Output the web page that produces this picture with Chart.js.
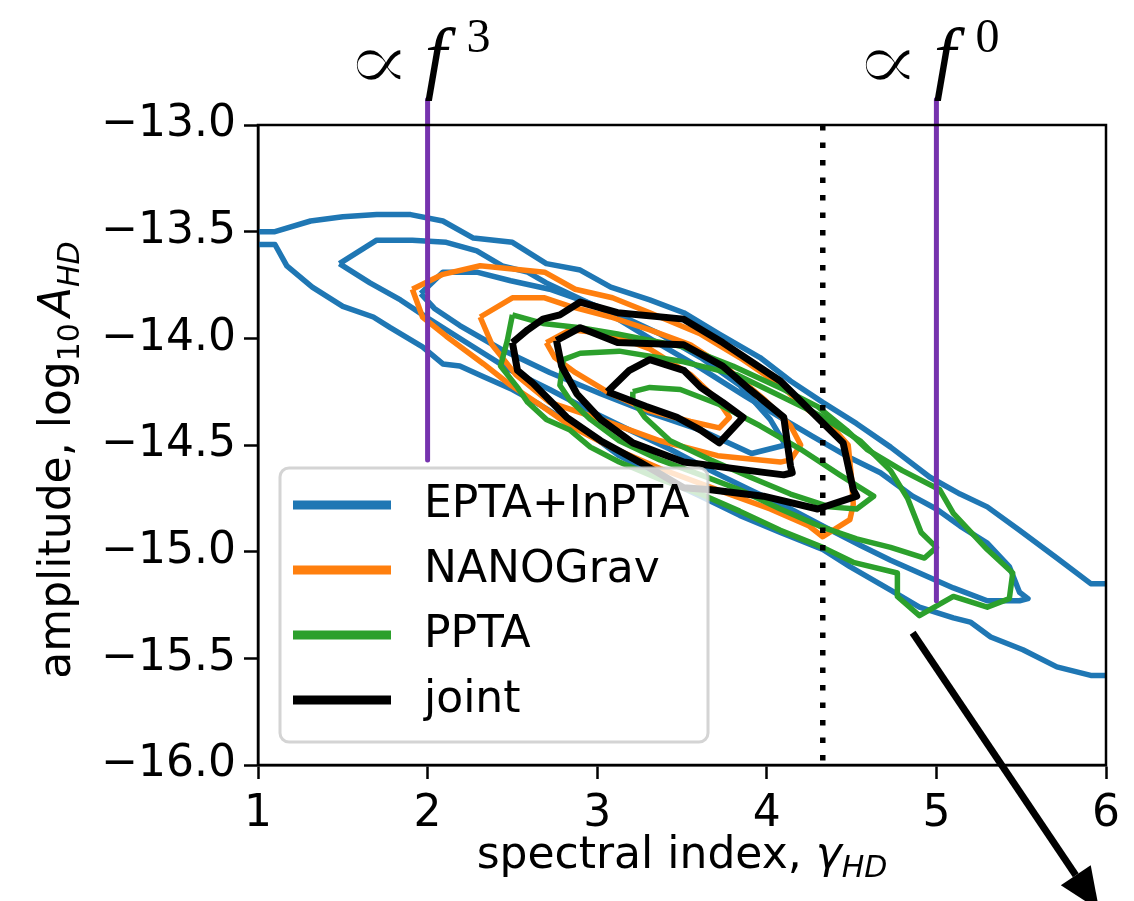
<!DOCTYPE html>
<html>
<head>
<meta charset="utf-8">
<script src="https://cdn.jsdelivr.net/npm/chart.js@4.4.1/dist/chart.umd.min.js"></script>
<style>
  html, body { margin: 0; padding: 0; background: #fff; }
</style>
</head>
<body>
<canvas id="chart" width="1134" height="901"></canvas>
<script>
// series names + colours
const legendLabels = ['EPTA+InPTA', 'NANOGrav', 'PPTA', 'joint'];
const seriesColors = ['#1f77b4', '#ff7f0e', '#2ca02c', '#000000'];

// tick values
const xTickValues = [1, 2, 3, 4, 5, 6];
const yTickValues = [-16, -15.5, -15, -14.5, -14, -13.5, -13];

// EPTA+InPTA contours (outer one is cut by the axes, so two open branches)
const eptaOuterTop = [[1.00,-13.50],[1.10,-13.50],[1.31,-13.45],[1.50,-13.43],[1.70,-13.42],[1.90,-13.42],[2.09,-13.45],[2.27,-13.53],[2.50,-13.55],[2.70,-13.65],[2.90,-13.68],[3.08,-13.76],[3.31,-13.82],[3.51,-13.88],[3.72,-13.98],[3.96,-14.09],[4.14,-14.20],[4.33,-14.30],[4.53,-14.40],[4.73,-14.51],[4.96,-14.65],[5.14,-14.73],[5.30,-14.79],[5.49,-14.90],[5.71,-15.03],[5.91,-15.15],[6.00,-15.15]];
const eptaOuterBottom = [[6.00,-15.58],[5.91,-15.58],[5.71,-15.54],[5.51,-15.46],[5.32,-15.40],[5.20,-15.33],[5.10,-15.31],[4.90,-15.26],[4.73,-15.18],[4.49,-15.07],[4.33,-14.99],[4.08,-14.91],[3.84,-14.83],[3.61,-14.74],[3.37,-14.65],[3.13,-14.55],[2.96,-14.45],[2.80,-14.38],[2.66,-14.31],[2.50,-14.24],[2.33,-14.18],[2.19,-14.13],[2.09,-14.12],[1.97,-14.04],[1.78,-13.95],[1.68,-13.90],[1.50,-13.85],[1.32,-13.76],[1.17,-13.66],[1.10,-13.56],[1.00,-13.56]];
const eptaMid = [[1.48,-13.65],[1.70,-13.54],[1.91,-13.54],[2.11,-13.55],[2.29,-13.59],[2.44,-13.66],[2.59,-13.69],[2.70,-13.74],[3.02,-13.86],[3.31,-14.00],[3.61,-14.14],[3.87,-14.27],[4.08,-14.37],[4.27,-14.46],[4.49,-14.56],[4.67,-14.63],[4.86,-14.74],[5.00,-14.80],[5.14,-14.88],[5.30,-14.96],[5.43,-15.07],[5.49,-15.19],[5.54,-15.22],[5.49,-15.23],[5.30,-15.23],[5.10,-15.17],[4.90,-15.10],[4.73,-15.04],[4.55,-14.97],[4.33,-14.88],[4.14,-14.80],[3.90,-14.71],[3.67,-14.62],[3.43,-14.52],[3.19,-14.43],[2.96,-14.34],[2.72,-14.24],[2.49,-14.15],[2.25,-14.03],[2.01,-13.91],[1.84,-13.82],[1.66,-13.74],[1.48,-13.65]];
const eptaInner = [[1.96,-13.79],[2.09,-13.69],[2.29,-13.69],[2.49,-13.73],[2.72,-13.77],[2.90,-13.82],[3.13,-13.89],[3.37,-13.98],[3.61,-14.09],[3.84,-14.22],[4.02,-14.38],[4.11,-14.50],[3.91,-14.54],[3.61,-14.43],[3.31,-14.35],[3.02,-14.26],[2.72,-14.16],[2.43,-14.05],[2.19,-13.94],[2.04,-13.86],[1.96,-13.79]];

// NANOGrav contours
const nanoOuter = [[1.91,-13.77],[2.09,-13.70],[2.31,-13.66],[2.69,-13.69],[2.87,-13.77],[3.09,-13.81],[3.31,-13.88],[3.61,-13.98],[3.84,-14.09],[4.08,-14.22],[4.25,-14.34],[4.39,-14.42],[4.48,-14.50],[4.50,-14.66],[4.51,-14.78],[4.49,-14.85],[4.33,-14.93],[4.25,-14.88],[4.02,-14.80],[3.71,-14.71],[3.37,-14.61],[3.08,-14.51],[2.84,-14.41],[2.66,-14.31],[2.49,-14.22],[2.33,-14.12],[2.11,-13.99],[1.97,-13.90],[1.91,-13.77]];
const nanoMid = [[2.31,-13.90],[2.50,-13.81],[2.69,-13.81],[2.84,-13.85],[3.08,-13.90],[3.31,-13.96],[3.55,-14.03],[3.78,-14.15],[3.99,-14.29],[4.14,-14.41],[4.20,-14.50],[4.14,-14.57],[4.08,-14.58],[3.71,-14.55],[3.37,-14.48],[3.02,-14.38],[2.72,-14.30],[2.52,-14.17],[2.38,-14.03],[2.31,-13.90]];
const nanoInner = [[2.70,-14.02],[2.84,-13.96],[3.08,-13.98],[3.31,-14.05],[3.55,-14.17],[3.71,-14.29],[3.78,-14.37],[3.72,-14.42],[3.55,-14.39],[3.31,-14.34],[3.08,-14.26],[2.87,-14.16],[2.75,-14.09],[2.70,-14.02]];

// PPTA contours
const pptaOuter = [[2.50,-13.89],[2.68,-13.93],[2.90,-13.95],[3.12,-13.98],[3.51,-14.04],[3.80,-14.13],[4.10,-14.24],[4.30,-14.32],[4.47,-14.43],[4.59,-14.52],[4.80,-14.62],[5.02,-14.71],[5.10,-14.82],[5.30,-14.99],[5.45,-15.10],[5.43,-15.22],[5.30,-15.26],[5.10,-15.21],[4.90,-15.30],[4.77,-15.21],[4.77,-15.10],[4.51,-15.05],[4.33,-14.98],[4.08,-14.90],[3.84,-14.81],[3.61,-14.73],[3.37,-14.66],[3.13,-14.58],[2.96,-14.51],[2.84,-14.43],[2.70,-14.38],[2.59,-14.30],[2.53,-14.23],[2.43,-14.13],[2.47,-14.01],[2.50,-13.89]];
const pptaMid = [[2.80,-14.10],[2.90,-14.07],[3.13,-14.06],[3.51,-14.11],[3.82,-14.17],[4.08,-14.27],[4.31,-14.36],[4.55,-14.48],[4.73,-14.62],[4.83,-14.75],[4.91,-14.91],[5.00,-14.98],[4.93,-15.03],[4.73,-14.98],[4.53,-14.94],[4.31,-14.88],[4.08,-14.80],[3.84,-14.71],[3.61,-14.64],[3.37,-14.57],[3.13,-14.48],[2.96,-14.38],[2.84,-14.29],[2.78,-14.22],[2.80,-14.10]];
const pptaInner = [[3.21,-14.25],[3.31,-14.23],[3.49,-14.24],[3.72,-14.31],[3.96,-14.41],[4.20,-14.52],[4.43,-14.64],[4.55,-14.70],[4.63,-14.74],[4.53,-14.80],[4.37,-14.79],[4.14,-14.73],[3.90,-14.65],[3.67,-14.57],[3.43,-14.48],[3.28,-14.37],[3.21,-14.29],[3.21,-14.25]];

// joint contours
const jointOuter = [[2.50,-14.02],[2.59,-13.96],[2.68,-13.91],[2.78,-13.89],[2.90,-13.83],[3.12,-13.88],[3.51,-13.91],[3.74,-14.02],[4.08,-14.20],[4.31,-14.38],[4.45,-14.49],[4.51,-14.71],[4.53,-14.74],[4.30,-14.80],[3.98,-14.74],[3.67,-14.71],[3.51,-14.70],[3.25,-14.58],[3.02,-14.48],[2.82,-14.37],[2.72,-14.29],[2.62,-14.21],[2.53,-14.15],[2.50,-14.02]];
const jointMid = [[2.76,-14.01],[2.90,-13.95],[3.12,-14.02],[3.51,-14.03],[3.74,-14.13],[3.90,-14.24],[4.10,-14.37],[4.14,-14.60],[4.15,-14.63],[4.10,-14.64],[3.90,-14.62],[3.51,-14.58],[3.21,-14.49],[3.02,-14.38],[2.88,-14.26],[2.79,-14.13],[2.76,-14.01]];
const jointInner = [[3.06,-14.25],[3.19,-14.15],[3.31,-14.10],[3.51,-14.15],[3.61,-14.23],[3.74,-14.30],[3.86,-14.37],[3.72,-14.49],[3.61,-14.43],[3.47,-14.37],[3.29,-14.32],[3.06,-14.25]];

// power-law reference lines (f^3 at gamma=2, f^0 at gamma=5)
const markerX = [2, 5];
const markerPower = ['3', '0'];
const markerTop = -12.88;
const markerBottom = [-14.57, -15.23];
const dottedX = 4.33;
const arrowFrom = [4.86, -15.38];
const arrowTo = [5.96, -16.68];

const FONT = '"DejaVu Sans", sans-serif';
const PURPLE = '#7633ae';

function pts(arr) { return arr.map(p => ({ x: p[0], y: p[1] })); }

function line(data, color, width, order, extra) {
  return Object.assign({
    label: '',
    data: pts(data),
    showLine: true,
    borderColor: color,
    backgroundColor: color,
    borderWidth: width,
    pointRadius: 0,
    pointHoverRadius: 0,
    fill: false,
    tension: 0,
    borderJoinStyle: 'round',
    order: order
  }, extra || {});
}

const datasets = [];
[eptaOuterTop, eptaOuterBottom, eptaMid, eptaInner].forEach(c => datasets.push(line(c, seriesColors[0], 5.5, 4)));
[nanoOuter, nanoMid, nanoInner].forEach(c => datasets.push(line(c, seriesColors[1], 5.5, 3)));
[pptaOuter, pptaMid, pptaInner].forEach(c => datasets.push(line(c, seriesColors[2], 5.5, 2)));
[jointOuter, jointMid, jointInner].forEach(c => datasets.push(line(c, seriesColors[3], 7, 1)));
markerX.forEach((x, i) => {
  datasets.push(line([[x, markerTop], [x, markerBottom[i]]], PURPLE, 5, 0, { clip: false }));
});
datasets.push(line([[dottedX, -13], [dottedX, -16]], '#000', 5.5, 0, { borderDash: [5.5, 12], borderJoinStyle: 'miter' }));

// draws a run of text pieces (for sub/superscripts)
function drawPieces(ctx, pieces, x, y, center) {
  let total = 0;
  pieces.forEach(p => { ctx.font = p.font; p.w = ctx.measureText(p.text).width; total += p.w + (p.gap || 0); });
  let cx = center ? x - total / 2 : x;
  pieces.forEach(p => {
    ctx.font = p.font;
    ctx.fillText(p.text, cx, y + (p.dy || 0));
    cx += p.w + (p.gap || 0);
  });
}

const extras = {
  id: 'extras',
  afterDatasetsDraw(chart) {
    const ctx = chart.ctx;
    const a = chart.chartArea;
    ctx.save();
    // axes frame
    ctx.strokeStyle = '#000';
    ctx.lineWidth = 2.5;
    ctx.strokeRect(a.left, a.top, a.right - a.left, a.bottom - a.top);

    // legend
    const bx = a.left + 22, by = a.bottom - 297, bw = 428, bh = 274;
    ctx.beginPath();
    ctx.roundRect(bx, by, bw, bh, 9);
    ctx.fillStyle = 'rgba(255,255,255,0.8)';
    ctx.fill();
    ctx.lineWidth = 3;
    ctx.strokeStyle = 'rgba(204,204,204,0.85)';
    ctx.stroke();
    ctx.textBaseline = 'middle';
    ctx.textAlign = 'left';
    ctx.font = '44px ' + FONT;
    legendLabels.forEach((lab, i) => {
      const yy = by + 37 + i * 65;
      ctx.beginPath();
      ctx.moveTo(bx + 13, yy);
      ctx.lineTo(bx + 111, yy);
      ctx.strokeStyle = seriesColors[i];
      ctx.lineWidth = 9;
      ctx.stroke();
      ctx.fillStyle = '#000';
      ctx.fillText(lab, bx + 144, yy + 1);
    });
    ctx.restore();
  },
  afterDraw(chart) {
    const ctx = chart.ctx;
    const xs = chart.scales.x, ys = chart.scales.y;
    ctx.save();
    ctx.fillStyle = '#000';
    ctx.textBaseline = 'alphabetic';
    ctx.textAlign = 'left';

    // proportional-to labels above the purple lines
    markerX.forEach((x, i) => {
      const px = xs.getPixelForValue(x);
      ctx.save();
      ctx.translate(px - 83, 90);
      ctx.scale(1.2, 1);
      ctx.font = '84px "DejaVu Serif", serif';
      ctx.fillText('\u221D', 0, 0);
      // thin the heavy glyph a bit so it reads like the math font
      ctx.strokeStyle = '#fff';
      ctx.lineWidth = 2.5;
      ctx.strokeText('\u221D', 0, 0);
      ctx.restore();
      ctx.font = 'italic 80px "Liberation Serif", serif';
      ctx.fillText('f', px - 3, 84);
      ctx.font = '48px "Liberation Serif", serif';
      ctx.fillText(markerPower[i], px + 39, 52);
    });

    // arrow
    const p0 = { x: xs.getPixelForValue(arrowFrom[0]), y: ys.getPixelForValue(arrowFrom[1]) };
    const p1 = { x: xs.getPixelForValue(arrowTo[0]), y: ys.getPixelForValue(arrowTo[1]) };
    const ang = Math.atan2(p1.y - p0.y, p1.x - p0.x);
    const hl = 42, hw = 18;
    const bxp = p1.x - hl * Math.cos(ang), byp = p1.y - hl * Math.sin(ang);
    ctx.strokeStyle = '#000';
    ctx.lineWidth = 7;
    ctx.beginPath();
    ctx.moveTo(p0.x, p0.y);
    ctx.lineTo(bxp, byp);
    ctx.stroke();
    ctx.beginPath();
    ctx.moveTo(p1.x, p1.y);
    ctx.lineTo(bxp + hw * Math.sin(ang), byp - hw * Math.cos(ang));
    ctx.lineTo(bxp - hw * Math.sin(ang), byp + hw * Math.cos(ang));
    ctx.closePath();
    ctx.fill();

    // axis titles
    const big = '44px ' + FONT, small = '30px ' + FONT;
    const bigI = 'italic 44px ' + FONT, smallI = 'italic 30px ' + FONT;
    drawPieces(ctx, [
      { text: 'spectral index, ', font: big },
      { text: '\u03B3', font: bigI },
      { text: 'HD', font: smallI, dy: 9 }
    ], (chart.chartArea.left + chart.chartArea.right) / 2, 868, true);

    ctx.translate(70, (chart.chartArea.top + chart.chartArea.bottom) / 2 + 15);
    ctx.rotate(-Math.PI / 2);
    drawPieces(ctx, [
      { text: 'amplitude, log', font: big },
      { text: '10', font: small, dy: 9, gap: 6 },
      { text: 'A', font: bigI },
      { text: 'HD', font: smallI, dy: 9 }
    ], 0, 0, true);
    ctx.restore();
  }
};

new Chart(document.getElementById('chart'), {
  type: 'scatter',
  data: { datasets: datasets },
  options: {
    responsive: false,
    animation: false,
    devicePixelRatio: 1,
    events: [],
    layout: { padding: { left: 0, right: 28, top: 125, bottom: 0 } },
    plugins: {
      legend: { display: false },
      tooltip: { enabled: false }
    },
    scales: {
      x: {
        type: 'linear',
        min: 1, max: 6,
        afterBuildTicks: s => { s.ticks = xTickValues.map(v => ({ value: v })); },
        afterFit: s => { s.height = 136; },
        ticks: {
          color: '#000',
          font: { family: FONT, size: 44 },
          padding: 9,
          maxRotation: 0,
          autoSkip: false,
          callback: v => String(v)
        },
        grid: { drawOnChartArea: false, drawTicks: true, tickLength: 14, tickWidth: 2.5, tickColor: '#000' },
        border: { display: true, color: '#000', width: 2.5 }
      },
      y: {
        type: 'linear',
        min: -16, max: -13,
        afterBuildTicks: s => { s.ticks = yTickValues.map(v => ({ value: v })); },
        afterFit: s => { s.width = 258; },
        ticks: {
          color: '#000',
          font: { family: FONT, size: 44 },
          padding: 8,
          autoSkip: false,
          callback: v => v.toFixed(1).replace('-', '\u2212')
        },
        grid: { drawOnChartArea: false, drawTicks: true, tickLength: 14, tickWidth: 2.5, tickColor: '#000' },
        border: { display: true, color: '#000', width: 2.5 }
      }
    }
  },
  plugins: [extras]
});
</script>
</body>
</html>
